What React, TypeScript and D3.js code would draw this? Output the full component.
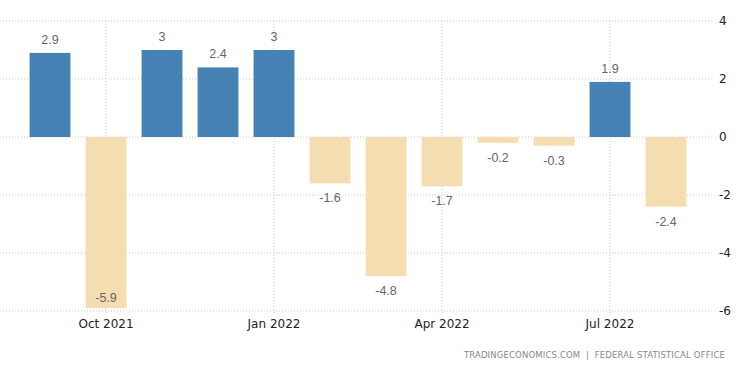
import React from 'react';
import * as d3 from 'd3';

const months = ['Sep 2021', 'Oct 2021', 'Nov 2021', 'Dec 2021', 'Jan 2022', 'Feb 2022', 'Mar 2022', 'Apr 2022', 'May 2022', 'Jun 2022', 'Jul 2022', 'Aug 2022'];
const values = [2.9, -5.9, 3, 2.4, 3, -1.6, -4.8, -1.7, -0.2, -0.3, 1.9, -2.4];
const xTicks = ['Oct 2021', 'Jan 2022', 'Apr 2022', 'Jul 2022'];
const yTicks = [4, 2, 0, -2, -4, -6];
const source = 'TRADINGECONOMICS.COM  |  FEDERAL STATISTICAL OFFICE';

const width = 750;
const height = 373;
const plotRight = 712;

export default function App() {
  const x = d3.scaleBand().domain(months).range([22, 694]).paddingInner(0.27).paddingOuter(0.135);
  const y = d3.scaleLinear().domain([-6, 4]).range([311, 21]);
  const bw = x.bandwidth();
  const zero = y(0);

  return (
    <div style={{ position: 'absolute', left: 0, top: 0 }}>
      <svg width={width} height={height} style={{ display: 'block', background: '#fff' }}>
        {yTicks.map(t => (
          <g key={t}>
            <line x1={0} x2={plotRight} y1={y(t)} y2={y(t)} stroke="#c8c8c8" strokeDasharray="1,2" />
            <text x={719} y={y(t) + 4} fontFamily="DejaVu Sans, sans-serif" fontSize={12} fill="#222">{t}</text>
          </g>
        ))}
        {xTicks.map(m => {
          const cx = (x(m) as number) + bw / 2;
          return (
            <g key={m}>
              <line x1={cx} x2={cx} y1={y(4)} y2={y(-6) + 4} stroke="#c8c8c8" strokeDasharray="1,2" />
              <text x={cx} y={328} textAnchor="middle" fontFamily="DejaVu Sans, sans-serif" fontSize={12} fill="#222">{m}</text>
            </g>
          );
        })}
        {values.map((v, i) => {
          const x0 = x(months[i]) as number;
          const yv = y(v);
          return (
            <rect key={i} x={x0} width={bw} y={Math.min(yv, zero)} height={Math.abs(yv - zero)} fill={v >= 0 ? '#4682B4' : '#F4DEB1'} />
          );
        })}
        {values.map((v, i) => {
          const cx = (x(months[i]) as number) + bw / 2;
          const yv = y(v);
          let ly = v >= 0 ? yv - 9 : yv + 19;
          if (ly > y(-6) - 4) ly = yv - 6;
          return (
            <text key={i} x={cx} y={ly} textAnchor="middle" fontFamily="Liberation Sans, Arial, sans-serif" fontSize={12.5} fill="#666">{String(v)}</text>
          );
        })}
        <text x={725} y={358} textAnchor="end" fontFamily="DejaVu Sans, sans-serif" fontSize={8.5} fill="#888" letterSpacing={0.15} style={{ whiteSpace: 'pre' }}>{source}</text>
      </svg>
    </div>
  );
}
